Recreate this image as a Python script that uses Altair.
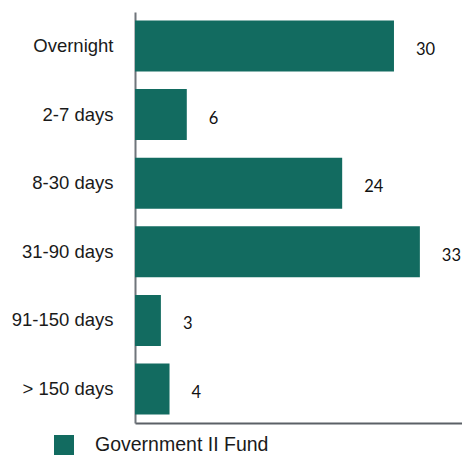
import altair as alt
import pandas as pd

categories = ["Overnight", "2-7 days", "8-30 days", "31-90 days", "91-150 days", "> 150 days"]
values = [30, 6, 24, 33, 3, 4]
series = "Government II Fund"

df = pd.DataFrame({"cat": categories, "val": values, "series": [series] * len(categories)})

color = "#126b60"

y_enc = alt.Y("cat:N", sort=categories, title=None,
              scale=alt.Scale(paddingInner=0.25, paddingOuter=0.12),
              axis=alt.Axis(ticks=False, tickSize=0, labelPadding=22, labelFontSize=18.5,
                            labelFont="Liberation Sans", labelColor="#1a1a1a",
                            domainColor="#6f757b", domainWidth=2, grid=False))
x_enc = alt.X("val:Q", title=None,
              scale=alt.Scale(domain=[0, 37.88], nice=False, zero=True),
              axis=alt.Axis(labels=False, ticks=False, grid=False, domainColor="#5b6066",
                            domainWidth=2, title=None))

bars = alt.Chart(df).mark_bar(size=51).encode(
    y=y_enc, x=x_enc,
    color=alt.Color("series:N", scale=alt.Scale(range=[color]),
                    legend=alt.Legend(title=None, orient="none", legendX=-81, legendY=423,
                                      symbolType="square", symbolSize=400, symbolStrokeWidth=0,
                                      labelFontSize=19.5, labelFont="Liberation Sans",
                                      labelColor="#1a1a1a", labelOffset=21, padding=0,
                                      labelLimit=400)),
)

labels = alt.Chart(df).mark_text(align="left", baseline="middle", dx=22, dy=4,
                                 font="Lato", fontSize=16.5, color="#111111").encode(
    y=alt.Y("cat:N", sort=categories),
    x=alt.X("val:Q"),
    text=alt.Text("val:Q"),
)

chart = alt.layer(bars, labels).properties(
    width=327, height=411,
    autosize=alt.AutoSizeParams(type="none"),
    padding={"left": 127, "top": 4, "right": 0, "bottom": 33},
).configure_view(stroke=None)

chart.save("out.html", embed_options={"renderer": "svg", "actions": False})
